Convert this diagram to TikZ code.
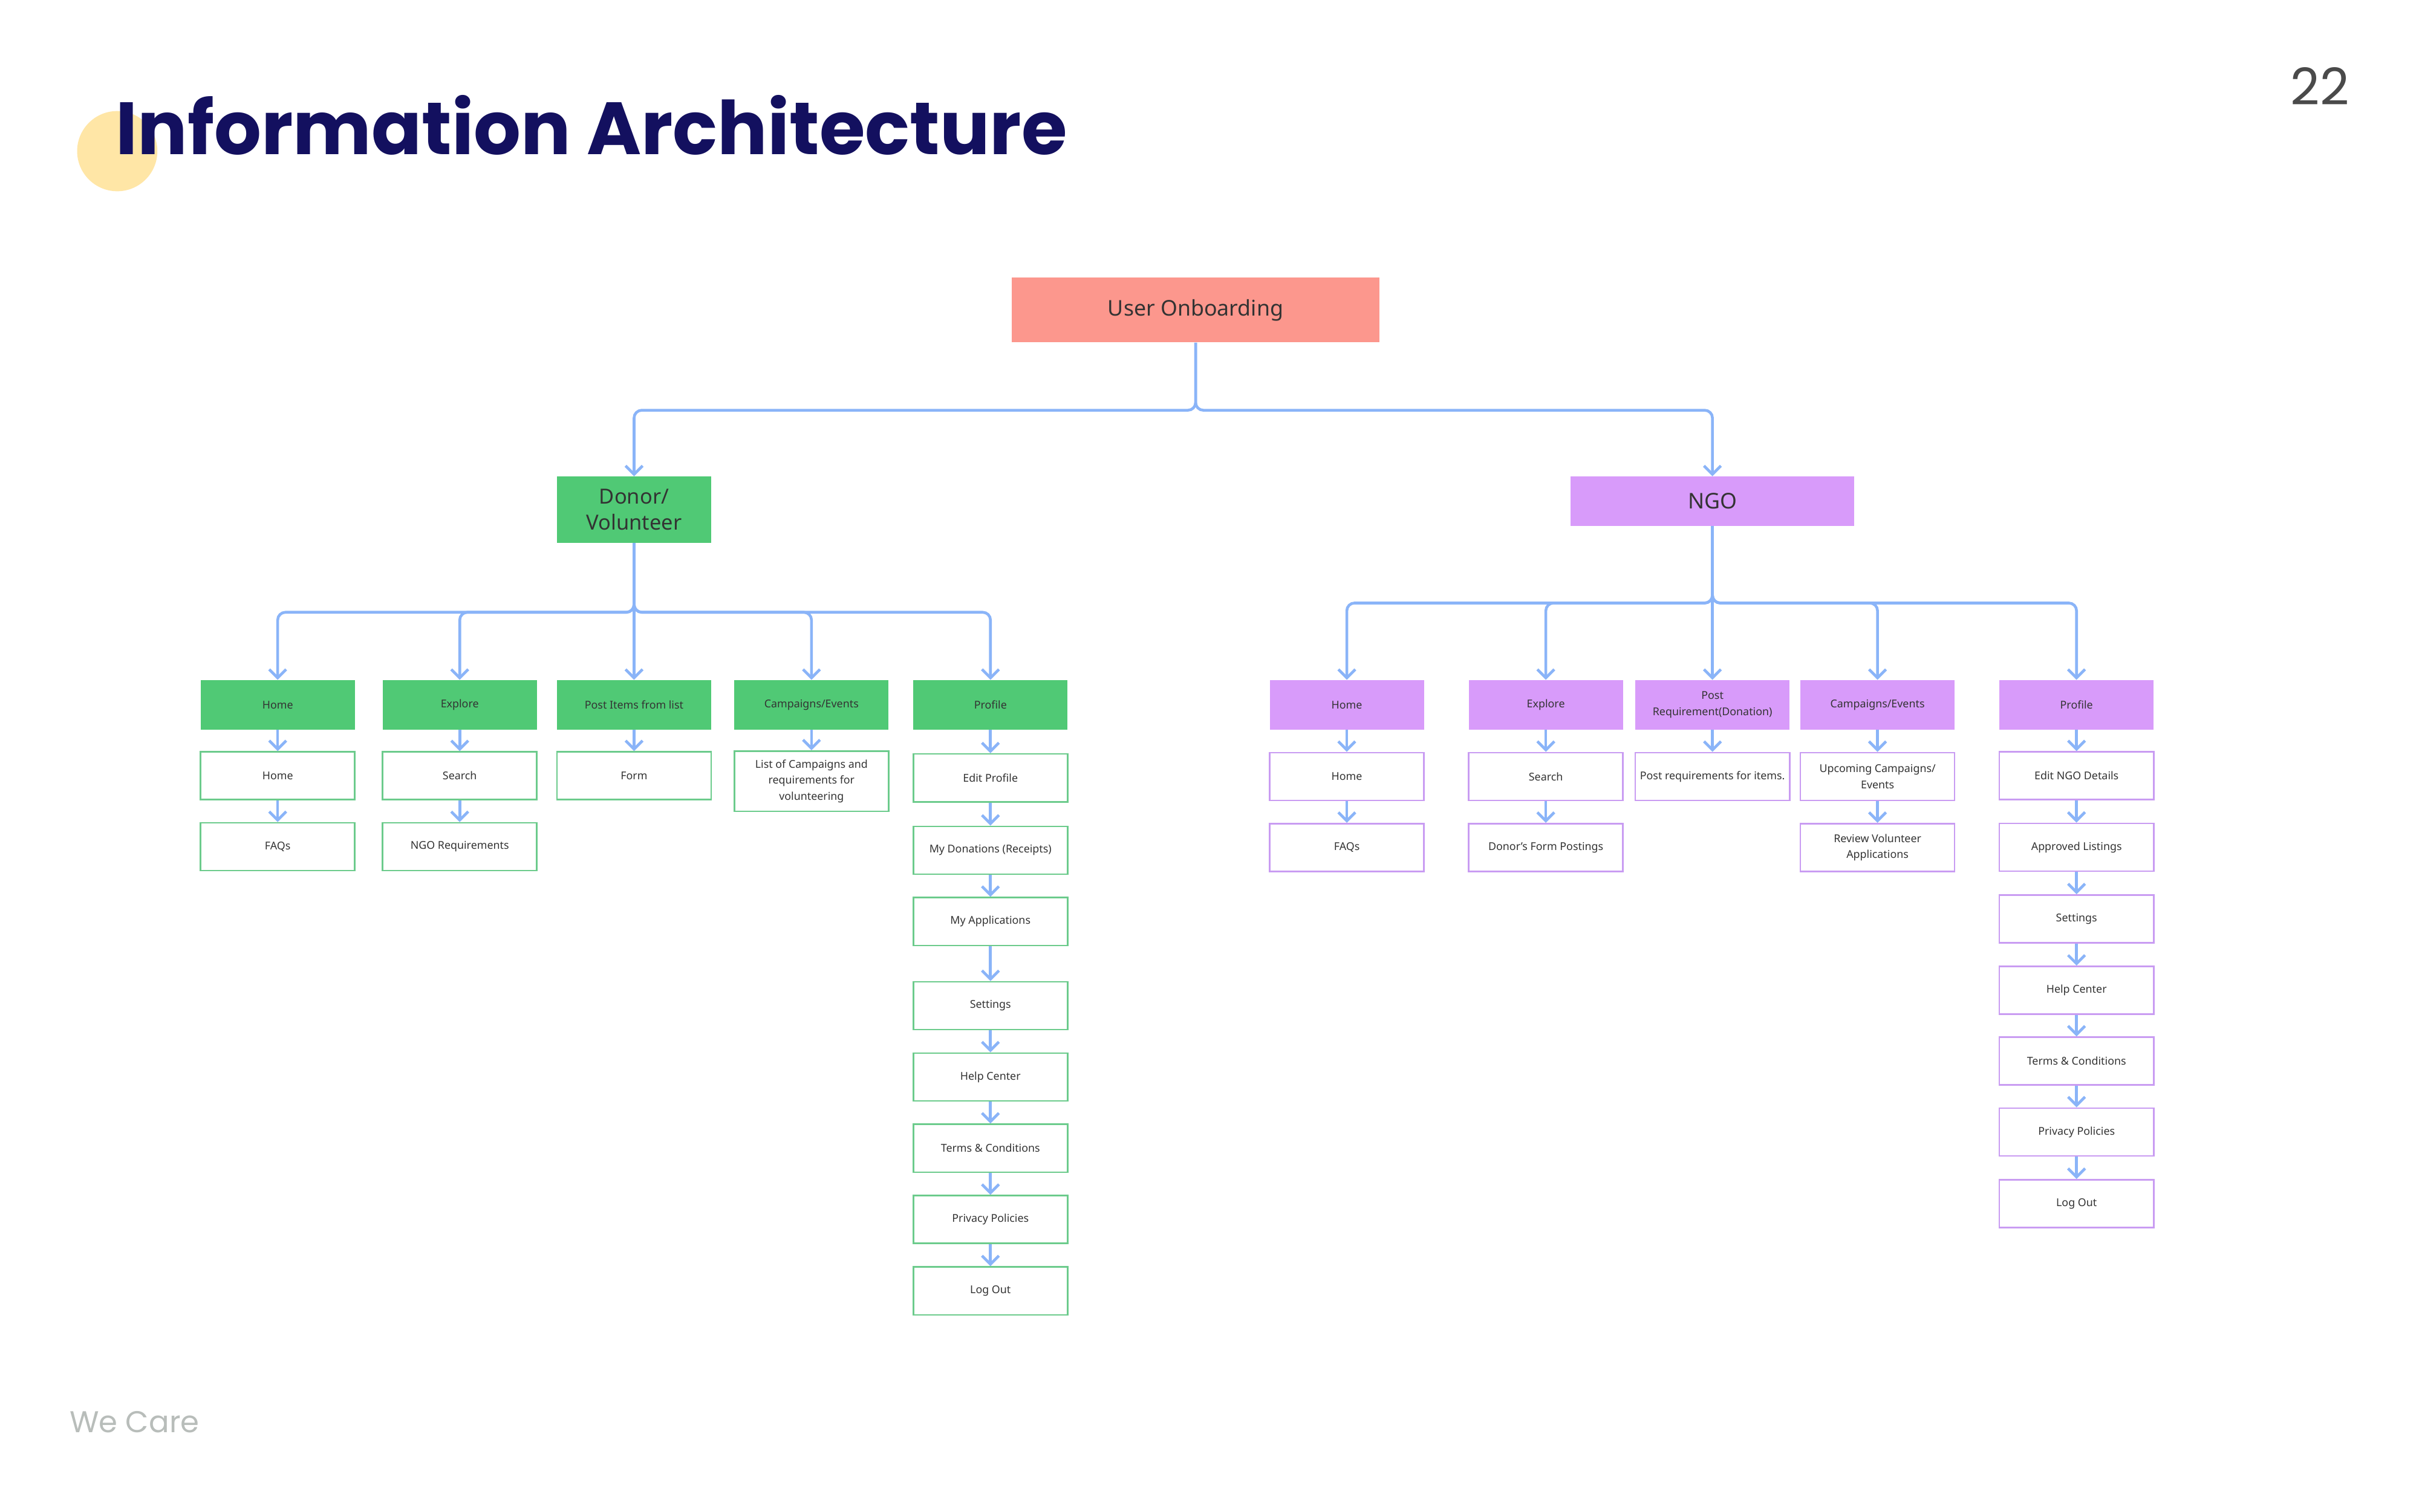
\documentclass[tikz,border=0pt]{standalone}
\usepackage{fontspec}
\setmainfont{Noto Sans}
\newfontfamily\popfont{Poppins}
\usetikzlibrary{arrows.meta}
\definecolor{navy}{HTML}{13105F}
\definecolor{circy}{HTML}{FFE6A6}
\definecolor{linkb}{HTML}{8AB4F8}
\definecolor{gfill}{HTML}{50C975}
\definecolor{gline}{HTML}{6CCB8C}
\definecolor{vfill}{HTML}{D89BFA}
\definecolor{vline}{HTML}{C99CF2}
\definecolor{sfill}{HTML}{FC978D}
\definecolor{txt}{HTML}{333333}
\definecolor{pgnum}{HTML}{4A4A4A}
\definecolor{foot}{HTML}{B8BDBA}
\tikzset{
  base/.style={inner sep=0pt, align=center, text=txt},
  topbox/.style={base, fill=sfill, minimum width=238pt, minimum height=42pt, font=\fontsize{14}{16}\selectfont},
  gbig/.style={base, fill=gfill, minimum width=100pt, minimum height=43pt, font=\fontsize{13.5}{17}\selectfont},
  vbig/.style={base, fill=vfill, minimum width=184pt, minimum height=32pt, font=\fontsize{14}{16}\selectfont},
  gl1/.style={base, fill=gfill, minimum width=100pt, minimum height=32pt, font=\fontsize{7}{10.5}\selectfont},
  vl1/.style={base, fill=vfill, minimum width=100pt, minimum height=32pt, font=\fontsize{7}{10.5}\selectfont},
  gl2/.style={base, draw=gline, line width=1pt, fill=white, minimum width=100pt, minimum height=31pt, font=\fontsize{7}{10.5}\selectfont},
  vl2/.style={base, draw=vline, line width=1pt, fill=white, minimum width=100pt, minimum height=31pt, font=\fontsize{7}{10.5}\selectfont},
  conn/.style={draw=linkb, line width=1.8pt, rounded corners=5pt, -{Straight Barb[length=5.5pt,width=11pt,line width=1.8pt]}},
}
\begin{document}
\begin{tikzpicture}[x=1pt,y=-1pt]
\fill[white] (0,0) rectangle (1568,980);
\useasboundingbox (0,0) rectangle (1568,980);

% header
\fill[circy] (76,98) circle (26);
\node[anchor=base west, inner sep=0pt, text=navy, font=\popfont\bfseries\fontsize{48}{54}\selectfont] (title) at (75,100) {Information Architecture};
\node[anchor=base east, inner sep=0pt, text=pgnum, font=\popfont\fontsize{33}{38}\selectfont] (pnum) at (1523,68) {22};
\node[anchor=base west, inner sep=0pt, text=foot, font=\popfont\fontsize{19.5}{22}\selectfont] (wecare) at (45,929) {We Care};

% top
\node[topbox] (uo) at (775,201) {User Onboarding};
\node[gbig] (don) at (411,330.5) {Donor/\\Volunteer};
\node[vbig] (ngo) at (1110,325) {NGO};

% donor tree
\node[gl1] (dh1) at (180,457) {Home};
\node[gl2] (dh2) at (180,503) {Home};
\node[gl2] (dh3) at (180,549) {FAQs};
\node[gl1] (de1) at (298,457) {Explore};
\node[gl2] (de2) at (298,503) {Search};
\node[gl2] (de3) at (298,549) {NGO Requirements};
\node[gl1] (dp1) at (411,457) {Post Items from list};
\node[gl2] (dp2) at (411,503) {Form};
\node[gl1] (dc1) at (526,457) {Campaigns/Events};
\node[gl2, minimum height=39pt] (dc2) at (526,506.5) {List of Campaigns and\\requirements for\\volunteering};
\node[gl1] (dr1) at (642,457) {Profile};
\node[gl2] (dr2) at (642,504.4) {Edit Profile};
\node[gl2] (dr3) at (642,551.3) {My Donations (Receipts)};
\node[gl2] (dr4) at (642,597.5) {My Applications};
\node[gl2] (dr5) at (642,652.1) {Settings};
\node[gl2] (dr6) at (642,698.3) {Help Center};
\node[gl2] (dr7) at (642,744.5) {Terms \& Conditions};
\node[gl2] (dr8) at (642,790.7) {Privacy Policies};
\node[gl2] (dr9) at (642,837) {Log Out};

% ngo tree
\node[vl1] (nh1) at (873,457) {Home};
\node[vl2] (nh2) at (873,503.5) {Home};
\node[vl2] (nh3) at (873,549.5) {FAQs};
\node[vl1] (ne1) at (1002,457) {Explore};
\node[vl2] (ne2) at (1002,503.5) {Search};
\node[vl2] (ne3) at (1002,549.5) {Donor's Form Postings};
\node[vl1] (np1) at (1110,457) {Post\\Requirement(Donation)};
\node[vl2] (np2) at (1110,503.5) {Post requirements for items.};
\node[vl1] (nc1) at (1217,457) {Campaigns/Events};
\node[vl2] (nc2) at (1217,503.5) {Upcoming Campaigns/\\Events};
\node[vl2] (nc3) at (1217,549.5) {Review Volunteer\\Applications};
\node[vl1] (nr1) at (1346,457) {Profile};
\node[vl2] (nr2) at (1346,503) {Edit NGO Details};
\node[vl2] (nr3) at (1346,549.4) {Approved Listings};
\node[vl2] (nr4) at (1346,595.8) {Settings};
\node[vl2] (nr5) at (1346,642.1) {Help Center};
\node[vl2] (nr6) at (1346,688) {Terms \& Conditions};
\node[vl2] (nr7) at (1346,734) {Privacy Policies};
\node[vl2] (nr8) at (1346,780.4) {Log Out};

% connectors: top level
\draw[conn] (uo.south) |- (775,266) -| (don.north);
\draw[conn] (uo.south) |- (775,266) -| (ngo.north);

% donor level
\draw[conn] (don.south) |- (411,397) -| (dh1.north);
\draw[conn] (don.south) |- (411,397) -| (de1.north);
\draw[conn] (don.south) -- (dp1.north);
\draw[conn] (don.south) |- (411,397) -| (dc1.north);
\draw[conn] (don.south) |- (411,397) -| (dr1.north);

% ngo level
\draw[conn] (ngo.south) |- (1110,391) -| (nh1.north);
\draw[conn] (ngo.south) |- (1110,391) -| (ne1.north);
\draw[conn] (ngo.south) -- (np1.north);
\draw[conn] (ngo.south) |- (1110,391) -| (nc1.north);
\draw[conn] (ngo.south) |- (1110,391) -| (nr1.north);

% vertical chains
\foreach \a/\b in {dh1/dh2,dh2/dh3,de1/de2,de2/de3,dp1/dp2,dc1/dc2,dr1/dr2,dr2/dr3,dr3/dr4,dr4/dr5,dr5/dr6,dr6/dr7,dr7/dr8,dr8/dr9,
  nh1/nh2,nh2/nh3,ne1/ne2,ne2/ne3,np1/np2,nc1/nc2,nc2/nc3,nr1/nr2,nr2/nr3,nr3/nr4,nr4/nr5,nr5/nr6,nr6/nr7,nr7/nr8}
  \draw[conn] (\a.south) -- (\b.north);
\end{tikzpicture}
\end{document}
